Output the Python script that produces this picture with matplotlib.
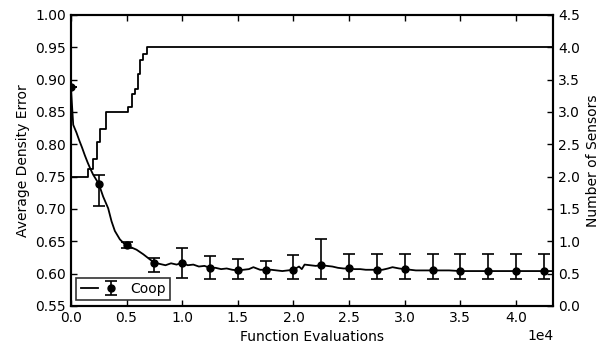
import numpy as np
import matplotlib.pyplot as plt
from matplotlib.legend_handler import HandlerTuple

# average density error, detailed curve
err_x = [0, 100, 210, 500, 750, 1000, 1250, 1500, 1750, 2000, 2250, 2500,
         2900, 3350, 3650, 3950, 4400, 4750, 5000, 5500, 5900, 6500, 7100, 7500,
         8000, 8500, 9000, 9500, 10000, 10500, 11000, 11500, 12000, 12500,
         13000, 13500, 14000, 14500, 15000, 15500, 16000, 16400, 17000, 17500,
         18000, 18500, 19000, 19500, 20000, 20500, 20750, 21000, 21500, 22000,
         22500, 23000, 23500, 24000, 24500, 25000, 25500, 26000, 26500, 27000,
         27500, 28000, 28500, 28900, 29500, 30000, 30500, 31000, 32000, 33000,
         34000, 35000, 36000, 37000, 38000, 39000, 40000, 41000, 42000, 43350]
err_y = [0.889, 0.860, 0.830, 0.818, 0.806, 0.795, 0.783, 0.772, 0.762, 0.753, 0.746, 0.739,
         0.719, 0.701, 0.681, 0.666, 0.653, 0.647, 0.644, 0.640, 0.637, 0.630, 0.622, 0.617,
         0.615, 0.613, 0.616, 0.614, 0.617, 0.613, 0.614, 0.611, 0.612, 0.609,
         0.609, 0.607, 0.608, 0.606, 0.605, 0.606, 0.607, 0.610, 0.606, 0.606,
         0.606, 0.605, 0.604, 0.605, 0.606, 0.611, 0.607, 0.614, 0.613, 0.612,
         0.613, 0.612, 0.611, 0.609, 0.608, 0.608, 0.607, 0.607, 0.606, 0.606,
         0.606, 0.606, 0.608, 0.610, 0.608, 0.607, 0.606, 0.605, 0.605, 0.605,
         0.605, 0.604, 0.604, 0.604, 0.604, 0.604, 0.604, 0.604, 0.604, 0.604]

# marker points with error bars (lower / upper ends)
mark_x = [0, 2500, 5000, 7500, 10000, 12500, 15000, 17500, 20000, 22500,
          25000, 27500, 30000, 32500, 35000, 37500, 40000, 42500]
mark_y = [0.889, 0.739, 0.644, 0.617, 0.617, 0.609, 0.605, 0.606, 0.606, 0.613,
          0.608, 0.606, 0.607, 0.605, 0.604, 0.604, 0.604, 0.604]
bar_lo = [0.889, 0.704, 0.639, 0.603, 0.594, 0.591, 0.591, 0.591, 0.591, 0.591,
          0.591, 0.591, 0.591, 0.591, 0.591, 0.591, 0.591, 0.591]
bar_hi = [0.889, 0.753, 0.649, 0.624, 0.640, 0.627, 0.623, 0.620, 0.629, 0.653,
          0.630, 0.630, 0.630, 0.630, 0.630, 0.630, 0.630, 0.630]

# number of sensors (step line, right axis)
sens_x = [0, 1500, 1950, 2350, 2600, 3150, 5150, 5450, 5750, 6000, 6200, 6500, 6800, 43350]
sens_y = [2.0, 2.12, 2.28, 2.54, 2.73, 3.0, 3.08, 3.27, 3.36, 3.59, 3.80, 3.90, 4.0, 4.0]

plt.rcParams.update({'font.size': 10, 'axes.linewidth': 1.5})

fig = plt.figure(figsize=(6.06, 3.52), dpi=100)
ax = fig.add_axes([0.117, 0.1307, 0.796, 0.827])

line, = ax.plot(err_x, err_y, 'k-', lw=1.3)
lo = np.array(mark_y) - np.array(bar_lo)
hi = np.array(bar_hi) - np.array(mark_y)
eb = ax.errorbar(mark_x, mark_y, yerr=[lo, hi], fmt='o', color='k', ms=5,
                 capsize=4, elinewidth=1.2, capthick=1.2)

ax.set_xlim(0, 43350)
ax.set_ylim(0.55, 1.0)
ax.set_yticks(np.arange(0.55, 1.001, 0.05))
ax.set_xticks(np.arange(0, 40001, 5000))
ax.ticklabel_format(axis='x', style='sci', scilimits=(0, 0))
ax.tick_params(direction='in', length=4, width=1, top=True)
ax.set_xlabel('Function Evaluations')
ax.set_ylabel('Average Density Error')

ax2 = ax.twinx()
ax2.step(sens_x, sens_y, where='post', color='k', lw=1.3)
ax2.set_ylim(0, 4.5)
ax2.set_yticks(np.arange(0, 4.51, 0.5))
ax2.tick_params(direction='in', length=4, width=1)
ax2.set_ylabel('Number of Sensors')

leg = ax.legend([(line, eb)], ['Coop'], loc='lower left', fancybox=False,
                handlelength=2.8, borderaxespad=0.4, borderpad=0.3,
                handler_map={tuple: HandlerTuple(ndivide=None)})
leg.get_frame().set_edgecolor('k')
leg.get_frame().set_linewidth(1.2)

fig.savefig('out.png', dpi=100)
